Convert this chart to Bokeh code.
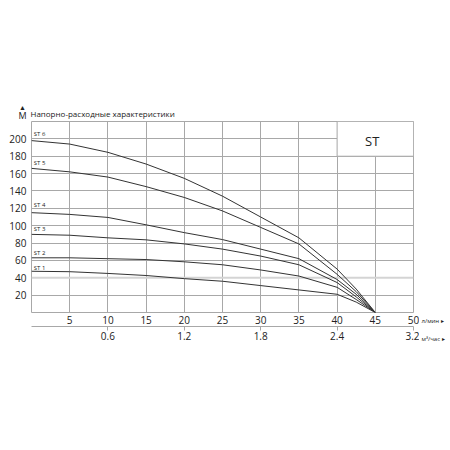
from bokeh.plotting import figure
from bokeh.layouts import column, row
from bokeh.models import Range1d, LinearAxis, FixedTicker, Span
from bokeh.core.properties import value
from bokeh.embed import file_html
from bokeh.resources import INLINE

FONT = "Open Sans"

# flow, l/min
flow = [0, 5, 10, 15, 20, 25, 30, 35, 40, 42.5, 45]
# head, m
st1 = [47.5, 47, 45, 42.6, 39, 36, 31, 26, 21, 12, 0]
st2 = [63, 63, 62, 61, 58.4, 55, 49, 42, 29, 15, 0]
st3 = [90, 89, 86, 83.7, 79, 73, 65, 55, 34.5, 18, 0]
st4 = [115, 113, 109.5, 101, 92, 84, 73, 62, 38, 21, 0]
st5 = [166, 162, 156, 145, 132.5, 117, 98, 79, 44, 24, 0]
st6 = [198, 194, 184.5, 171, 154.5, 134, 110, 86, 50, 27, 0]
series = [st1, st2, st3, st4, st5, st6]
series_names = ["ST 1", "ST 2", "ST 3", "ST 4", "ST 5", "ST 6"]
label_heads = [51.5, 68.8, 96.5, 124, 172.6, 206]

x_ticks = [5, 10, 15, 20, 25, 30, 35, 40, 45, 50]
y_ticks = [20, 40, 60, 80, 100, 120, 140, 160, 180, 200]
m3_ticks = [10, 20, 30, 40, 50]
m3_labels = ["0.6", "1.2", "1.8", "2.4", "3.2"]

title_text = "Напорно-расходные характеристики"
unit_lmin = "л/мин ▸"
unit_m3 = "м³/час ▸"
model_name = "ST"

GRID = "#a8a8a8"
LINE = "#333333"
TXT = "#222222"

TOP_H = 121
MAIN_W = 419
MAIN_H = 250
SIDE_W = 450 - MAIN_W - 1


def blank(width, height, xr, yr):
    f = figure(width=width, height=height, output_backend="svg",
               toolbar_location=None, x_range=xr, y_range=yr,
               x_axis_location=None, y_axis_location=None,
               min_border_left=0, min_border_right=0, min_border_top=0,
               min_border_bottom=0, frame_align=False)
    f.grid.visible = False
    f.outline_line_color = None
    return f


# ---- top strip: axis title ----
top = blank(450, TOP_H, Range1d(0, 450), Range1d(TOP_H, 0))
top.text(x=[22], y=[106.5], text=["▲"], text_font=value(FONT),
         text_font_size="7px", text_align="center", text_baseline="middle",
         text_color=TXT)
top.text(x=[22], y=[114.5], text=["М"], text_font=value(FONT),
         text_font_size="9px", text_align="center", text_baseline="middle",
         text_color=TXT)
top.text(x=[30], y=[112.5], text=[title_text], text_font=value(FONT),
         text_font_size="8px", text_align="left", text_baseline="middle",
         text_color=TXT)

# ---- main chart ----
p = figure(width=MAIN_W, height=MAIN_H, output_backend="svg",
           toolbar_location=None,
           x_range=Range1d(0, 50), y_range=Range1d(0, 220),
           min_border_left=31, min_border_right=6, min_border_top=0,
           min_border_bottom=MAIN_H - 191, frame_align=False)
p.outline_line_color = GRID
p.outline_line_width = 1

p.xaxis.ticker = FixedTicker(ticks=x_ticks)
p.yaxis.ticker = FixedTicker(ticks=y_ticks)
for ax in (p.xaxis, p.yaxis):
    ax.axis_line_color = None
    ax.major_tick_line_color = None
    ax.major_tick_out = 0
    ax.major_tick_in = 0
    ax.minor_tick_line_color = None
    ax.major_label_text_font = FONT
    ax.major_label_text_font_size = "10px"
    ax.major_label_text_color = TXT
p.xaxis.major_label_standoff = 3
p.yaxis.major_label_standoff = 5

p.xgrid.ticker = FixedTicker(ticks=x_ticks[:-1])
p.ygrid.ticker = FixedTicker(ticks=[t for t in y_ticks if t != 40])
p.xgrid.grid_line_color = GRID
p.ygrid.grid_line_color = GRID
p.add_layout(Span(location=40, dimension="width", line_color="#d4d4d4",
                  line_width=2, level="underlay"))

ax2 = LinearAxis(ticker=FixedTicker(ticks=m3_ticks),
                 major_label_overrides={t: l for t, l in zip(m3_ticks, m3_labels)})
ax2.axis_line_color = GRID
ax2.major_tick_line_color = GRID
ax2.major_tick_out = 4
ax2.major_tick_in = 0
ax2.minor_tick_line_color = None
ax2.major_label_text_font = FONT
ax2.major_label_text_font_size = "10px"
ax2.major_label_text_color = TXT
ax2.major_label_standoff = 1
p.add_layout(ax2, "below")

# model box
p.quad(left=40, right=50, bottom=180, top=220, fill_color="white",
       line_color=GRID, line_width=1)
p.text(x=[44.6], y=[198], text=[model_name], text_font=value(FONT),
       text_font_size="13px", text_align="center", text_baseline="middle",
       text_color=TXT)

for s in series:
    p.line(flow, s, line_color=LINE, line_width=1)

p.text(x=[0.3] * len(series), y=label_heads, text=series_names,
       text_font=value(FONT), text_font_size="6px", text_baseline="middle",
       text_color=TXT)

# ---- right strip: units ----
side = blank(SIDE_W, MAIN_H, Range1d(0, SIDE_W), Range1d(MAIN_H, 0))
side.text(x=[2, 2], y=[320 - TOP_H, 338 - TOP_H], text=[unit_lmin, unit_m3],
          text_font=value(FONT), text_font_size="6px", text_align="left",
          text_baseline="middle", text_color=TXT)

layout = column(top, row(p, side))
open("out.html", "w").write(file_html(layout, INLINE))
